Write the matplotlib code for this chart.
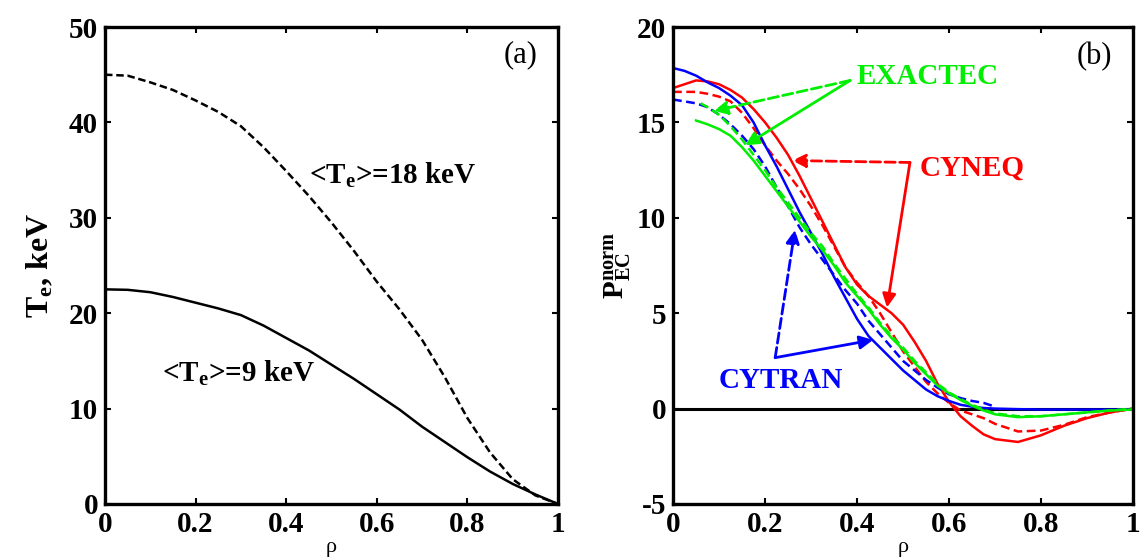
import numpy as np
import matplotlib.pyplot as plt

plt.rcParams['font.family'] = ['Liberation Serif', 'DejaVu Serif']
plt.rcParams['mathtext.fontset'] = 'custom'
plt.rcParams['mathtext.rm'] = 'Liberation Serif'
plt.rcParams['mathtext.bf'] = 'Liberation Serif:bold'

# panel (a): electron temperature profiles
rho_a = [0, 0.05, 0.1, 0.15, 0.2, 0.25, 0.3, 0.35, 0.4, 0.45, 0.5, 0.55, 0.6,
         0.65, 0.7, 0.75, 0.8, 0.85, 0.9, 0.95, 1.0]
te_9 = [22.5, 22.45, 22.2, 21.7, 21.1, 20.5, 19.8, 18.7, 17.4, 16.1, 14.6, 13.1,
        11.5, 9.9, 8.1, 6.5, 4.9, 3.4, 2.1, 1.0, 0]
te_18 = [45.0, 44.9, 44.2, 43.4, 42.3, 41.1, 39.6, 37.4, 34.9, 32.3, 29.5, 26.5,
         23.3, 20.4, 17.2, 13.3, 9.0, 5.4, 2.6, 0.9, 0]

# panel (b): normalised EC power profiles
rho_b = [0, 0.025, 0.05, 0.075, 0.1, 0.125, 0.15, 0.175, 0.2, 0.225, 0.25, 0.275,
         0.3, 0.325, 0.35, 0.375, 0.4, 0.425, 0.45, 0.475, 0.5, 0.525, 0.55, 0.575,
         0.6, 0.625, 0.65, 0.675, 0.7, 0.75, 0.8, 0.85, 0.9, 0.95, 1.0]
cyneq_solid = [16.8, 17.0, 17.2, 17.15, 17.0, 16.7, 16.3, 15.7, 15.0, 14.2, 13.3, 12.2,
               11.0, 9.8, 8.6, 7.4, 6.5, 5.9, 5.45, 5.0, 4.4, 3.5, 2.5, 1.3,
               0.35, -0.4, -0.9, -1.35, -1.6, -1.75, -1.4, -0.9, -0.5, -0.2, 0]
cyneq_dash = [16.6, 16.6, 16.6, 16.5, 16.35, 16.1, 15.5, 14.7, 13.8, 13.0, 12.3, 11.5,
              10.6, 9.6, 8.5, 7.4, 6.6, 5.9, 5.0, 4.0, 3.0, 2.2, 1.4, 0.8,
              0.3, -0.1, -0.3, -0.5, -0.8, -1.2, -1.15, -0.85, -0.45, -0.2, 0]
cytran_solid = [17.85, 17.7, 17.45, 17.1, 16.8, 16.4, 15.9, 15.0, 13.8, 12.7, 11.5, 10.3,
                9.2, 8.1, 6.9, 5.8, 4.7, 3.8, 3.2, 2.6, 2.0, 1.5, 1.0, 0.65,
                0.4, 0.2, 0.1, 0.03, 0, -0.03, -0.05, -0.05, -0.05, -0.05, -0.05]
rho_bd = [0, 0.025, 0.05, 0.075, 0.1, 0.125, 0.15, 0.175, 0.2, 0.225, 0.25, 0.275,
          0.3, 0.325, 0.35, 0.375, 0.4, 0.425, 0.45, 0.475, 0.5, 0.525, 0.55, 0.575,
          0.6, 0.625, 0.65, 0.675, 0.7]
cytran_dash = [16.2, 16.1, 16.0, 15.8, 15.4, 14.9, 14.3, 13.6, 12.7, 11.6, 10.6, 9.5,
               8.6, 7.8, 7.0, 6.2, 5.5, 4.6, 3.9, 3.2, 2.5, 2.0, 1.5, 1.1,
               0.75, 0.55, 0.4, 0.3, 0.1]
rho_g = [0.05, 0.075, 0.1, 0.125, 0.15, 0.175, 0.2, 0.225, 0.25, 0.275, 0.3, 0.325,
         0.35, 0.375, 0.4, 0.425, 0.45, 0.475, 0.5, 0.525, 0.55, 0.575, 0.6, 0.625,
         0.65, 0.675, 0.7, 0.75, 0.8, 0.85, 0.9, 0.95, 1.0]
exactec_solid = [15.1, 14.9, 14.65, 14.3, 13.7, 13.0, 12.2, 11.4, 10.6, 9.8, 9.0, 8.3,
                 7.5, 6.6, 5.9, 5.2, 4.4, 3.7, 3.1, 2.4, 1.8, 1.2, 0.8, 0.45,
                 0.15, -0.1, -0.3, -0.45, -0.4, -0.3, -0.2, -0.1, -0.05]
rho_gd = [0.06, 0.075, 0.1, 0.125, 0.15, 0.175, 0.2, 0.225, 0.25, 0.275, 0.3, 0.325,
          0.35, 0.375, 0.4, 0.425, 0.45, 0.475, 0.5, 0.525, 0.55, 0.575, 0.6, 0.625,
          0.65, 0.675, 0.7, 0.75, 0.8, 0.85, 0.9, 0.95, 1.0]
exactec_dash = [16.0, 15.8, 15.4, 14.8, 14.1, 13.3, 12.5, 11.6, 10.8, 10.0, 9.2, 8.5,
                7.6, 6.8, 6.0, 5.3, 4.5, 3.8, 3.2, 2.5, 1.9, 1.3, 0.85, 0.5,
                0.2, -0.05, -0.25, -0.4, -0.4, -0.3, -0.2, -0.1, 0]

fig = plt.figure(figsize=(11.4, 5.58), dpi=100)
ax1 = fig.add_axes([0.0921, 0.0968, 0.3974, 0.8548])
ax2 = fig.add_axes([0.5904, 0.0968, 0.4035, 0.8548])

for ax in (ax1, ax2):
    for s in ax.spines.values():
        s.set_linewidth(2.4)
    ax.tick_params(direction='in', top=True, right=True, length=4, width=1.5,
                   labelsize=21, pad=5)
    ax.set_xlim(0, 1)
    ax.set_xticks([0, 0.2, 0.4, 0.6, 0.8, 1])
    ax.set_xticklabels(['0', '0.2', '0.4', '0.6', '0.8', '1'], fontweight='bold')
    ax.set_xlabel('ρ', fontsize=16, labelpad=0)

lw = 1.8
# (a)
ax1.plot(rho_a, te_9, color='black', lw=lw)
ax1.plot(rho_a, te_18, color='black', lw=lw, ls=(0, (3, 1.5)))
ax1.set_ylim(0, 50)
ax1.set_yticks(range(0, 51, 10))
ax1.set_yticklabels([str(v) for v in range(0, 51, 10)], fontweight='bold')
ax1.set_ylabel(r'$\mathbf{T_e}$, keV', fontsize=23, fontweight='bold', labelpad=10)
ax1.text(0.955, 47.1, '(a)', fontsize=22, ha='right', va='center')
ax1.text(0.45, 34.4, r'<$\mathbf{T_e}$>=18 keV', fontsize=21, fontweight='bold', va='center')
ax1.text(0.125, 13.7, r'<$\mathbf{T_e}$>=9 keV', fontsize=21, fontweight='bold', va='center')

# (b)
red, blue, green = '#ff0000', '#0000ff', '#00ee00'
dash = (0, (3.5, 1.8))
ax2.axhline(0, color='black', lw=2.2, zorder=1)
ax2.plot(rho_b, cyneq_solid, color=red, lw=lw)
ax2.plot(rho_b, cyneq_dash, color=red, lw=lw, ls=dash)
ax2.plot(rho_b, cytran_solid, color=blue, lw=lw)
ax2.plot(rho_bd, cytran_dash, color=blue, lw=lw, ls=dash)
ax2.plot(rho_g, exactec_solid, color=green, lw=lw)
ax2.plot(rho_gd, exactec_dash, color=green, lw=lw, ls=dash)
ax2.set_ylim(-5, 20)
ax2.set_yticks(range(-5, 21, 5))
ax2.set_yticklabels([str(v) for v in range(-5, 21, 5)], fontweight='bold')
ax2.set_ylabel(r'$\mathbf{P_{EC}^{norm}}$', fontsize=21, labelpad=2)
ax2.text(0.955, 18.45, '(b)', fontsize=22, ha='right', va='center')


def arrow(ax, start, tip, color, ls):
    ax.annotate('', xy=tip, xytext=start,
                arrowprops=dict(arrowstyle='-|>', color=color, lw=2, ls=ls,
                                mutation_scale=20, shrinkA=0, shrinkB=0))


ax2.text(0.4, 17.4, 'EXACTEC', color=green, fontsize=21, fontweight='bold', va='center')
arrow(ax2, (0.385, 17.2), (0.089, 15.6), green, '--')
arrow(ax2, (0.385, 17.2), (0.157, 13.8), green, '-')

ax2.text(0.535, 12.6, 'CYNEQ', color=red, fontsize=21, fontweight='bold', va='center')
arrow(ax2, (0.515, 12.9), (0.259, 13.0), red, '--')
arrow(ax2, (0.515, 12.9), (0.465, 5.3), red, '-')

ax2.text(0.098, 1.45, 'CYTRAN', color=blue, fontsize=21, fontweight='bold', va='center')
arrow(ax2, (0.222, 2.67), (0.265, 9.37), blue, '--')
arrow(ax2, (0.222, 2.67), (0.435, 3.6), blue, '-')

fig.savefig('out.png', dpi=100)
